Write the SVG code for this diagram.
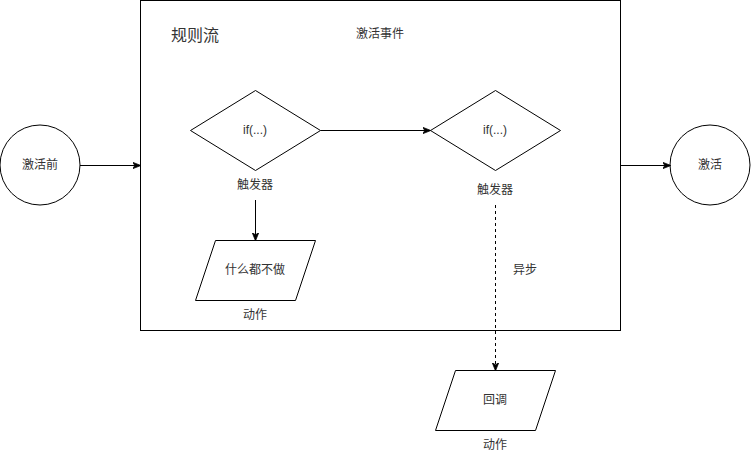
<svg xmlns="http://www.w3.org/2000/svg" width="751" height="461" viewBox="0 0 751 461">
<style>
.s{fill:#fff;stroke:#000;stroke-width:1}
.t{font-family:"Liberation Sans","Noto Sans CJK SC",sans-serif;font-size:12px;fill:#333;text-anchor:middle;dominant-baseline:central}
.c{fill:none;stroke:#000;stroke-width:1}
</style>
<defs>
<marker id="a" viewBox="0 0 10 10" refX="9" refY="5" markerWidth="8" markerHeight="8" markerUnits="userSpaceOnUse" orient="auto">
<path d="M0,1 L10,5 L0,9 L2.5,5 Z" fill="#000" stroke="#000" stroke-width="1"/>
</marker>
</defs>
<rect width="751" height="461" fill="#fff"/>
<g id="ruleflow">
<rect class="s" x="140.5" y="0.5" width="480" height="330"/>
<text class="t" x="195" y="35" style="font-size:16px">规则流</text>
<text class="t" x="380" y="34">激活事件</text>
</g>
<g id="before">
<circle class="s" cx="40" cy="165" r="40"/>
<text class="t" x="40" y="165">激活前</text>
</g>
<g id="active">
<circle class="s" cx="710" cy="165" r="40"/>
<text class="t" x="710" y="165">激活</text>
</g>
<g id="trigger1">
<path class="s" d="M190.5,130.5 L255.5,90.5 L320.5,130.5 L255.5,170.5 Z"/>
<text class="t" x="255" y="130">if(...)</text>
<text class="t" x="255" y="185">触发器</text>
</g>
<g id="trigger2">
<path class="s" d="M430.5,130.5 L495.5,90.5 L560.5,130.5 L495.5,170.5 Z"/>
<text class="t" x="495" y="130">if(...)</text>
<text class="t" x="495" y="190">触发器</text>
</g>
<g id="action1">
<path class="s" d="M215.5,240.5 L315.5,240.5 L295.5,300.5 L195.5,300.5 Z"/>
<text class="t" x="255" y="270">什么都不做</text>
<text class="t" x="255" y="315">动作</text>
</g>
<g id="action2">
<path class="s" d="M455.5,370.5 L555.5,370.5 L535.5,430.5 L435.5,430.5 Z"/>
<text class="t" x="495" y="400">回调</text>
<text class="t" x="495" y="445">动作</text>
</g>
<g id="connectors">
<path class="c" d="M80,165.5 L140,165.5" marker-end="url(#a)"/>
<path class="c" d="M620.5,165.5 L670,165.5" marker-end="url(#a)"/>
<path class="c" d="M320.5,130.5 L430,130.5" marker-end="url(#a)"/>
<path class="c" d="M255.5,200 L255.5,240" marker-end="url(#a)"/>
<path class="c" d="M495.5,205 L495.5,370" stroke-dasharray="3,3" marker-end="url(#a)"/>
<text class="t" x="525" y="270">异步</text>
</g>
</svg>
